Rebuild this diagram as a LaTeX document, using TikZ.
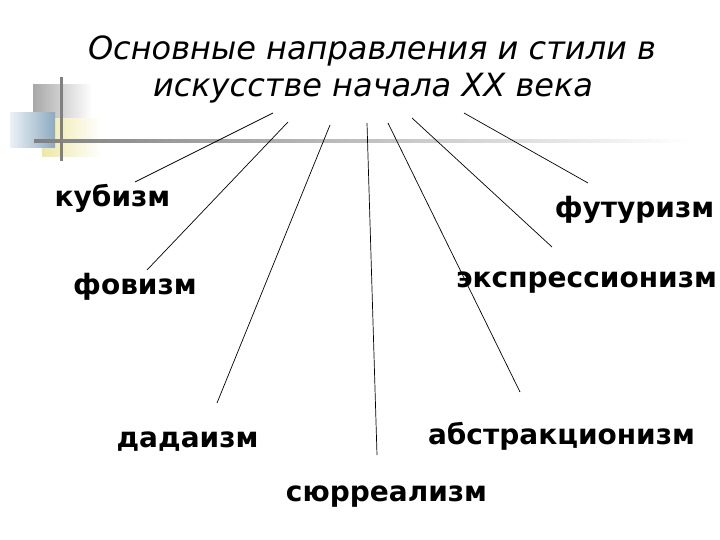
\documentclass[tikz,border=0pt]{standalone}
\usepackage{fontspec}
\setmainfont{DejaVu Sans}
\definecolor{decoGray}{RGB}{168,168,168}
\definecolor{decoBlue}{RGB}{140,170,192}
\definecolor{decoBlueL}{RGB}{236,241,245}
\definecolor{decoYellow}{RGB}{238,232,165}
\definecolor{barGray}{RGB}{128,128,128}
\begin{document}
\begin{tikzpicture}[x=1pt,y=-1pt,
  lbl/.style={font=\fontsize{28}{34}\selectfont\bfseries, inner sep=0pt, anchor=base},
  ttl/.style={font=\fontsize{32}{38}\selectfont\itshape, inner sep=0pt, anchor=base},
  conn/.style={line width=0.7pt, black}]
\useasboundingbox (0,0) rectangle (720,540);
\fill[white] (0,0) rectangle (720,540);
% decoration
\shade[left color=decoGray, right color=white] (33,85) rectangle (92,120);
\shade[left color=decoYellow, right color=white] (42,119) rectangle (102,157);
\shade[left color=decoBlueL, right color=decoBlue] (10,113) rectangle (55,148);
\shade[left color=barGray, right color=white] (34,139.5) rectangle (690,142.5);
\fill[barGray] (59.5,77) rectangle (62.5,161);
% title
\node[ttl] (t1) at (372,60) {Основные направления и стили в};
\node[ttl] (t2) at (373,97) {искусстве начала XX века};
% labels
\node[lbl] (kub) at (112.5,207) {кубизм};
\node[lbl] (fov) at (135,294) {фовизм};
\node[lbl] (dad) at (187.5,447) {дадаизм};
\node[lbl] (syu) at (386.5,501) {сюрреализм};
\node[lbl] (abs) at (561.5,444) {абстракционизм};
\node[lbl] (eks) at (586.5,287) {экспрессионизм};
\node[lbl] (fut) at (634.5,218) {футуризм};
% connector ends
\coordinate (kubA) at (273,113); \coordinate (kubB) at (135,182);
\coordinate (fovA) at (288,122); \coordinate (fovB) at (147,270);
\coordinate (dadA) at (330,125); \coordinate (dadB) at (217,403);
\coordinate (syuA) at (367,123); \coordinate (syuB) at (377,455);
\coordinate (absA) at (388,123); \coordinate (absB) at (520,392);
\coordinate (eksA) at (412,118); \coordinate (eksB) at (552,247);
\coordinate (futA) at (464,113); \coordinate (futB) at (588,183);
\draw[conn] (kubA) -- (kubB);
\draw[conn] (fovA) -- (fovB);
\draw[conn] (dadA) -- (dadB);
\draw[conn] (syuA) -- (syuB);
\draw[conn] (absA) -- (absB);
\draw[conn] (eksA) -- (eksB);
\draw[conn] (futA) -- (futB);
\end{tikzpicture}
\end{document}
